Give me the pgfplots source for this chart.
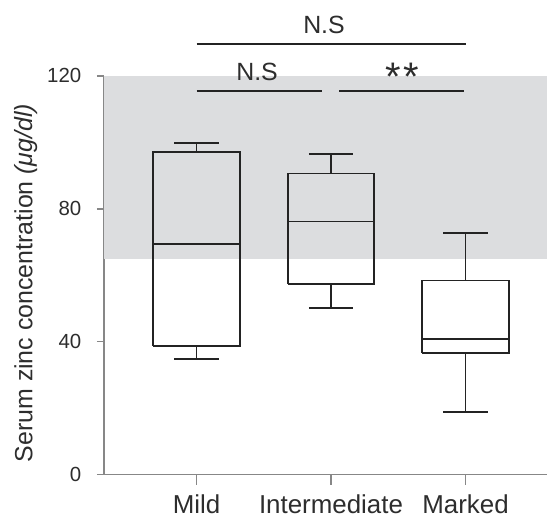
\documentclass[border=0pt]{standalone}
\usepackage{pgfplots}
\pgfplotsset{compat=1.18}
\usepackage{fontspec}
\setmainfont{Liberation Sans}
\definecolor{axgray}{RGB}{135,135,135}
\definecolor{bandgray}{RGB}{220,221,223}
\definecolor{boxc}{RGB}{35,35,35}
\definecolor{txt}{RGB}{45,45,45}
\begin{document}
\begin{tikzpicture}
\begin{axis}[
  scale only axis,
  width=443bp, height=398.8bp,
  xmin=0.312, xmax=3.606,
  ymin=0, ymax=120,
  axis x line=bottom, axis y line=left,
  axis line style={draw=axgray, line width=1.8bp, -},
  clip=false,
  unbounded coords=jump,
  xtick={1,2,3},
  xticklabels={Mild,Intermediate,Marked},
  ytick={0,40,80,120},
  tick align=outside,
  tick style={draw=axgray, line width=1.8bp},
  xtick style={/pgfplots/major tick length=10bp},
  ytick style={/pgfplots/major tick length=7bp},
  x tick label style={font=\fontsize{26}{26}\selectfont, text=txt, yshift=-12bp},
  y tick label style={font=\fontsize{20.5}{20.5}\selectfont, text=txt, xshift=-15bp},
  /pgf/number format/assume math mode=true,
  ylabel={Serum zinc concentration \textit{(μg/dl)}},
  ylabel style={font=\fontsize{25}{25}\selectfont, text=txt, at={(axis description cs:-0.176,0.48)}, anchor=center},
]
\fill[bandgray] (axis cs:0.312,64.9) rectangle (axis cs:3.606,120);
% Mild: lower whisker 34.7, Q1 38.7, median 69.3, Q3 97.0, upper whisker 99.7
\addplot[boxc, line width=1.8bp, mark=none] coordinates {
 (0.6775,38.7) (1.3225,38.7) (1.3225,97.0) (0.6775,97.0) (0.6775,38.7) (nan,nan)
 (0.6775,69.3) (1.3225,69.3) (nan,nan)
 (1,97.0) (1,99.7) (nan,nan) (0.835,99.7) (1.165,99.7) (nan,nan)
 (1,38.7) (1,34.7) (nan,nan) (0.835,34.7) (1.165,34.7)};
% Intermediate: 50.2, 57.3, 76.1, 90.6, 96.5
\addplot[boxc, line width=1.8bp, mark=none] coordinates {
 (1.6775,57.3) (2.3225,57.3) (2.3225,90.6) (1.6775,90.6) (1.6775,57.3) (nan,nan)
 (1.6775,76.1) (2.3225,76.1) (nan,nan)
 (2,90.6) (2,96.5) (nan,nan) (1.835,96.5) (2.165,96.5) (nan,nan)
 (2,57.3) (2,50.2) (nan,nan) (1.835,50.2) (2.165,50.2)};
% Marked: 18.8, 36.5, 40.7, 58.4, 72.7
\addplot[boxc, line width=1.8bp, mark=none] coordinates {
 (2.6775,36.5) (3.3225,36.5) (3.3225,58.4) (2.6775,58.4) (2.6775,36.5) (nan,nan)
 (2.6775,40.7) (3.3225,40.7) (nan,nan)
 (3,58.4) (3,72.7) (nan,nan) (2.835,72.7) (3.165,72.7) (nan,nan)
 (3,36.5) (3,18.8) (nan,nan) (2.835,18.8) (3.165,18.8)};
% significance annotations
\draw[boxc, line width=1.8bp] (axis cs:1,129.5) -- (axis cs:3,129.5);
\draw[boxc, line width=1.8bp] (axis cs:1,115.3) -- (axis cs:1.93,115.3);
\draw[boxc, line width=1.8bp] (axis cs:2.06,115.3) -- (axis cs:2.99,115.3);
\node[anchor=base, inner sep=0pt, text=txt, font=\fontsize{25}{25}\selectfont] at (axis cs:1.948,132.8) {N.S};
\node[anchor=base, inner sep=0pt, text=txt, font=\fontsize{25}{25}\selectfont] at (axis cs:1.45,118.5) {N.S};
\node[anchor=base, inner sep=0pt, text=txt, font=\fontsize{40}{40}\selectfont] at (axis cs:2.528,115.6) {*\kern2bp*};
\end{axis}
\pgfresetboundingbox
\path[use as bounding box] ([shift={(-104bp,-44.5bp)}]current axis.south west) rectangle ([shift={(443bp,474.5bp)}]current axis.south west);
\end{tikzpicture}
\end{document}
